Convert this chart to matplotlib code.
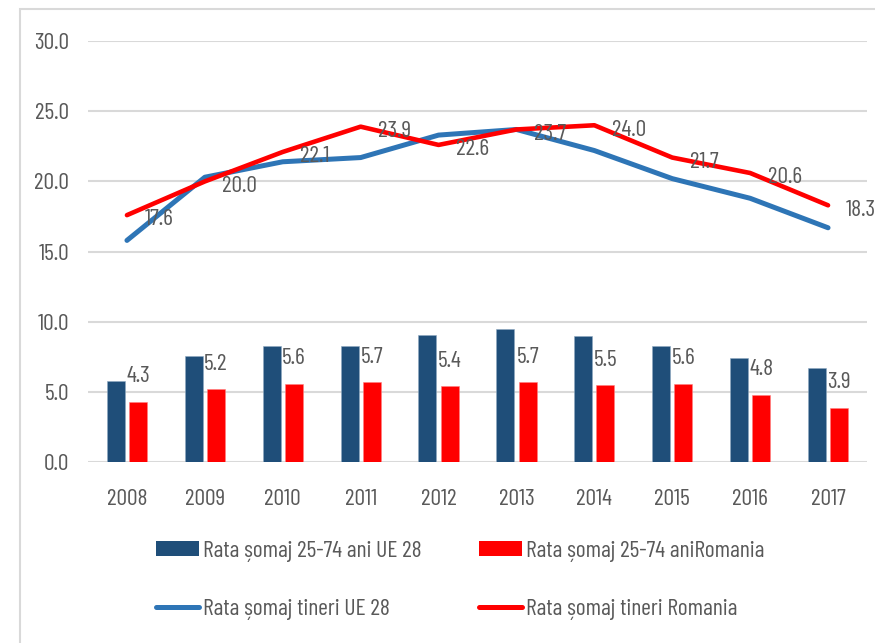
import matplotlib
matplotlib.use("Agg")
import matplotlib.pyplot as plt
import numpy as np
from matplotlib.patches import Rectangle, Patch
from matplotlib.lines import Line2D

plt.rcParams['font.family'] = ['Barlow Condensed', 'DejaVu Sans']

years = ['2008', '2009', '2010', '2011', '2012', '2013', '2014', '2015', '2016', '2017']
eu_adult = [5.8, 7.6, 8.3, 8.3, 9.1, 9.5, 9.0, 8.3, 7.4, 6.7]
ro_adult = [4.3, 5.2, 5.6, 5.7, 5.4, 5.7, 5.5, 5.6, 4.8, 3.9]
eu_youth = [15.8, 20.3, 21.4, 21.7, 23.3, 23.7, 22.2, 20.2, 18.8, 16.7]
ro_youth = [17.6, 20.0, 22.1, 23.9, 22.6, 23.7, 24.0, 21.7, 20.6, 18.3]
yticks = [0, 5, 10, 15, 20, 25, 30]

names = ['Rata șomaj 25-74 ani UE 28', 'Rata șomaj 25-74 aniRomania',
         'Rata șomaj tineri UE 28', 'Rata șomaj tineri Romania']

c_bar_eu = '#1F4E79'
c_red = '#FF0000'
c_line_eu = '#2E75B6'
c_text = '#595959'
c_grid = '#D9D9D9'

fig = plt.figure(figsize=(8.75, 6.43), dpi=100)
fig.patches.append(Rectangle((20/875, -0.1), 1.2, 1 - 9/643 + 0.1, transform=fig.transFigure,
                             fill=False, edgecolor='#D9D9D9', linewidth=1.5))

ax = fig.add_axes([88/875, 1 - 462.3/643, (867-88)/875, (462.3-41)/643])
x = np.arange(len(years))
w = 0.231
off = 0.143
ax.bar(x - off, eu_adult, width=w, color=c_bar_eu, edgecolor='#8EA9C1', linewidth=0.4, zorder=2)
ax.bar(x + off, ro_adult, width=w, color=c_red, edgecolor='#FF8080', linewidth=0.4, zorder=2)
ax.plot(x, eu_youth, color=c_line_eu, linewidth=3.6, solid_capstyle='round', solid_joinstyle='round', zorder=3)
ax.plot(x, ro_youth, color=c_red, linewidth=3.3, solid_capstyle='round', solid_joinstyle='round', zorder=4)

fs = 17
for xi, v in zip(x, ro_adult):
    ax.annotate(f'{v:.1f}', (xi + off, v), xytext=(0, 14), textcoords='offset points',
                ha='center', va='baseline', fontsize=fs, color=c_text, zorder=5)
for xi, v in zip(x, ro_youth):
    ax.annotate(f'{v:.1f}', (xi, v), xytext=(12.5, -7.4), textcoords='offset points',
                ha='left', va='baseline', fontsize=fs, color=c_text, zorder=5, annotation_clip=False)

ax.set_xlim(-0.5, 9.5)
ax.set_ylim(0, 30)
ax.set_yticks(yticks)
ax.set_yticklabels([f'{t:.1f}' for t in yticks])
ax.set_xticks(x)
ax.set_xticklabels(years)
ax.grid(axis='y', color=c_grid, linewidth=1.5, zorder=0)
ax.set_axisbelow(True)
for s in ax.spines.values():
    s.set_visible(False)
ax.tick_params(axis='both', length=0, labelsize=fs, colors=c_text)
ax.tick_params(axis='y', pad=13.5)
ax.tick_params(axis='x', pad=19)

lfs = 17
common = dict(loc='upper left', frameon=False, fontsize=lfs, handlelength=1.83, handleheight=0.6,
              handletextpad=0.17, labelspacing=1.55, borderpad=0, borderaxespad=0, ncol=1)
h1 = [Patch(facecolor=c_bar_eu), Line2D([], [], color=c_line_eu, linewidth=3.6, solid_capstyle='round')]
h2 = [Patch(facecolor=c_red), Line2D([], [], color=c_red, linewidth=3.6, solid_capstyle='round')]
leg1 = fig.legend(h1, [names[0], names[2]], bbox_to_anchor=(156/875, 1 - 541/643), **common)
leg2 = fig.legend(h2, [names[1], names[3]], bbox_to_anchor=(479/875, 1 - 541/643), **common)
for lg in (leg1, leg2):
    for t in lg.get_texts():
        t.set_color(c_text)

fig.savefig('out.png', dpi=100)
